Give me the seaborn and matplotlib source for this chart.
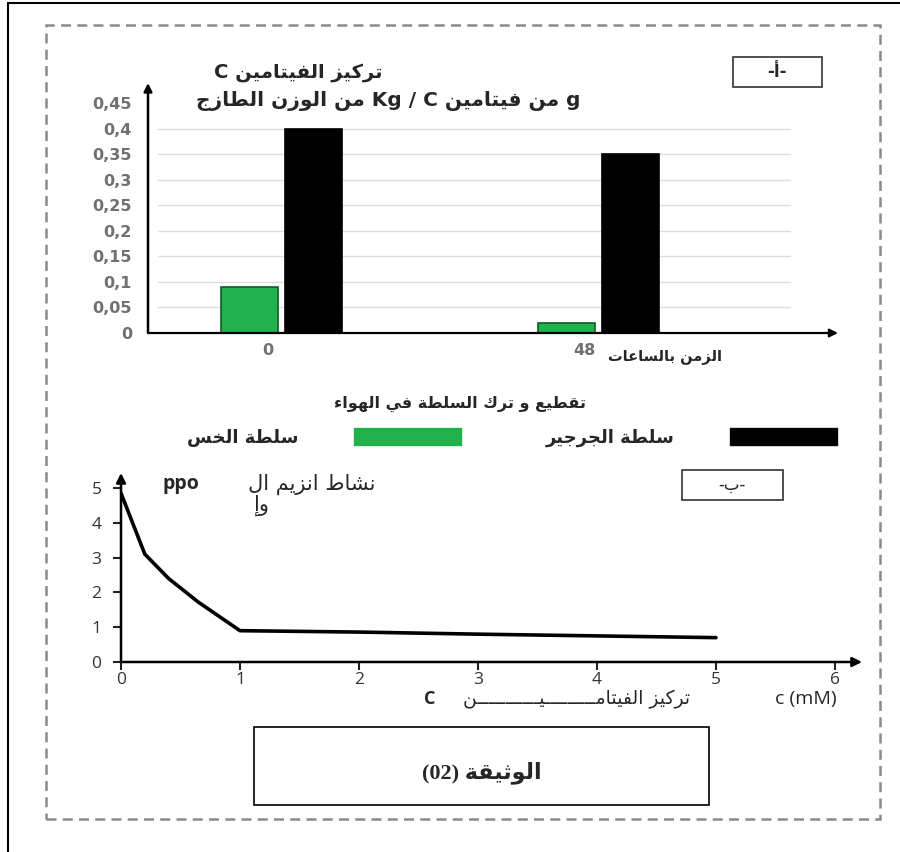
import numpy as np
import pandas as pd
import seaborn as sns
import matplotlib
matplotlib.use("Agg")
import matplotlib.pyplot as plt
from matplotlib.patches import Rectangle
from matplotlib.lines import Line2D
import matplotlib.transforms as mtransforms

# ---------------- data ----------------
hours = ['0', '48']
salads = ['سلطة الخس', 'سلطة الجرجير']
lettuce_vc = [0.09, 0.02]
watercress_vc = [0.40, 0.35]
vc_ticks = [0, 0.05, 0.10, 0.15, 0.20, 0.25, 0.30, 0.35, 0.40, 0.45]

conc_mM = [0, 0.2, 0.4, 0.65, 1, 2, 3, 4, 5]
ppo_activity = [4.85, 3.1, 2.4, 1.72, 0.9, 0.86, 0.8, 0.75, 0.7]
conc_ticks = [0, 1, 2, 3, 4, 5, 6]
act_ticks = [0, 1, 2, 3, 4, 5]

# ---------------- minimal Arabic shaping + bidi ----------------
DUAL = {'\u0626': 0xFE89, '\u0628': 0xFE8F, '\u062A': 0xFE95, '\u062B': 0xFE99,
        '\u062C': 0xFE9D, '\u062D': 0xFEA1, '\u062E': 0xFEA5, '\u0633': 0xFEB1,
        '\u0634': 0xFEB5, '\u0635': 0xFEB9, '\u0636': 0xFEBD, '\u0637': 0xFEC1,
        '\u0638': 0xFEC5, '\u0639': 0xFEC9, '\u063A': 0xFECD, '\u0641': 0xFED1,
        '\u0642': 0xFED5, '\u0643': 0xFED9, '\u0644': 0xFEDD, '\u0645': 0xFEE1,
        '\u0646': 0xFEE5, '\u0647': 0xFEE9, '\u064A': 0xFEF1}
RIGHT = {'\u0622': 0xFE81, '\u0623': 0xFE83, '\u0624': 0xFE85, '\u0625': 0xFE87,
         '\u0627': 0xFE8D, '\u0629': 0xFE93, '\u062F': 0xFEA9, '\u0630': 0xFEAB,
         '\u0631': 0xFEAD, '\u0632': 0xFEAF, '\u0648': 0xFEED, '\u0649': 0xFEEF}
LAMALEF = {'\u0622': (0xFEF5, 0xFEF6), '\u0623': (0xFEF7, 0xFEF8),
           '\u0625': (0xFEF9, 0xFEFA), '\u0627': (0xFEFB, 0xFEFC)}
TATWEEL = '\u0640'


def _jn(c):  # can connect to next
    return c is not None and (c in DUAL or c == TATWEEL)


def _jp(c):  # can connect to previous
    return c is not None and (c in DUAL or c in RIGHT or c == TATWEEL)


def shape(text):
    out = []
    n = len(text)
    i = 0
    while i < n:
        c = text[i]
        prev = text[i - 1] if i > 0 else None
        nxt = text[i + 1] if i + 1 < n else None
        if c == '\u0644' and nxt in LAMALEF:
            iso, fin = LAMALEF[nxt]
            out.append(chr(fin if _jn(prev) else iso))
            i += 2
            continue
        if c == TATWEEL:
            out.append(c)
        elif c in DUAL or c in RIGHT:
            p = _jn(prev)
            q = c in DUAL and _jp(nxt)
            base = DUAL.get(c, RIGHT.get(c))
            if p and q:
                out.append(chr(base + 3))
            elif q:
                out.append(chr(base + 2))
            elif p:
                out.append(chr(base + 1))
            else:
                out.append(chr(base))
        elif c == '\u0621':
            out.append('\uFE80')
        else:
            out.append(c)
        i += 1
    return ''.join(out)


def _is_ar(c):
    return '\u0600' <= c <= '\u06FF' or '\uFB50' <= c <= '\uFEFF'


def ar(text):
    if not any(_is_ar(c) for c in text):
        return text
    s = shape(text)
    n = len(s)
    types = ['L' if (c.isascii() and c.isalnum()) else ('R' if _is_ar(c) else 'N') for c in s]
    res = types[:]
    for i in range(n):
        if types[i] == 'N':
            j = i - 1
            while j >= 0 and types[j] == 'N':
                j -= 1
            k = i + 1
            while k < n and types[k] == 'N':
                k += 1
            res[i] = 'L' if (j >= 0 and k < n and types[j] == 'L' and types[k] == 'L') else 'R'
    runs = []
    for c, t in zip(s, res):
        if runs and runs[-1][0] == t:
            runs[-1][1].append(c)
        else:
            runs.append([t, [c]])
    mirror = {'(': ')', ')': '(', '[': ']', ']': '['}
    out = ''
    for t, cs in reversed(runs):
        if t == 'L':
            out += ''.join(cs)
        else:
            out += ''.join(mirror.get(c, c) for c in reversed(cs))
    return out


# ---------------- figure ----------------
sns.set_theme(style='white')
plt.rcParams['font.family'] = ['DejaVu Sans']
W, H = 900, 852
fig = plt.figure(figsize=(W / 100, H / 100), dpi=100)
fig.patch.set_facecolor('white')


def fx(x):
    return x / W


def fy(y):
    return 1 - y / H


def ftext(x, y, s, **kw):
    kw.setdefault('ha', 'center')
    kw.setdefault('va', 'center')
    return fig.text(fx(x), fy(y), ar(s), **kw)


def fbox(x0, y0, x1, y1, **kw):
    r = Rectangle((fx(x0), fy(y1)), (x1 - x0) / W, (y1 - y0) / H,
                  transform=fig.transFigure, fill=False, **kw)
    fig.add_artist(r)


# outer frame
fig.add_artist(Line2D([fx(8), fx(900)], [fy(3), fy(3)], color='black', lw=1.5,
                      transform=fig.transFigure))
fig.add_artist(Line2D([fx(8), fx(8)], [fy(3), fy(852)], color='black', lw=1.5,
                      transform=fig.transFigure))
fbox(46, 25, 880, 819, edgecolor='#8a8a8a', lw=1.8, linestyle=(0, (4, 2.5)))

# ---------------- bar chart (A) ----------------
GREEN = '#22b14c'
ax1 = fig.add_axes([fx(148), fy(333), (838 - 148) / W, (333 - 83) / H])
df = pd.DataFrame({
    'hour': hours * 2,
    'salad': [salads[0]] * 2 + [salads[1]] * 2,
    'vc': lettuce_vc + watercress_vc,
})
sns.barplot(data=df, x='hour', y='vc', hue='salad', order=hours, hue_order=salads,
            palette=[GREEN, 'black'], saturation=1, width=0.4, gap=0.1,
            linewidth=1.2, ax=ax1, zorder=3)
for cont, ec in zip(ax1.containers, ['#0b5e22', 'black']):
    for p in cont:
        p.set_edgecolor(ec)
handles, labels = ax1.get_legend_handles_labels()
if ax1.get_legend() is not None:
    ax1.get_legend().remove()
ax1.set_xlim(-0.421, 1.755)
ax1.set_ylim(0, 0.49)
ax1.set_xlabel('')
ax1.set_ylabel('')
for s in ax1.spines.values():
    s.set_visible(False)
ax1.set_yticks(vc_ticks)
ax1.set_yticklabels(['0' if v == 0 else ('%g' % v).replace('.', ',') for v in vc_ticks])
ax1.tick_params(axis='both', length=0, colors='#707070', labelsize=11.5)
ax1.tick_params(axis='y', pad=11.5)
ax1.tick_params(axis='x', pad=7)
for lab in ax1.get_yticklabels() + ax1.get_xticklabels():
    lab.set_fontweight('bold')
off = mtransforms.ScaledTranslation(-14 / 100, 0, fig.dpi_scale_trans)
for lab in ax1.get_xticklabels():
    lab.set_transform(lab.get_transform() + off)
for v in vc_ticks[1:-1]:
    ax1.axhline(v, xmin=0.0145, xmax=0.93, color='#dcdcdc', lw=1, zorder=0)
ax1.annotate('', xy=(0, 1), xytext=(0, 0), xycoords='axes fraction',
             arrowprops=dict(arrowstyle='-|>', color='black', lw=1.8, mutation_scale=12,
                             shrinkA=0, shrinkB=0))
ax1.annotate('', xy=(1, 0), xytext=(0, 0), xycoords='axes fraction',
             arrowprops=dict(arrowstyle='-|>', color='black', lw=1.6, mutation_scale=12,
                             shrinkA=0, shrinkB=0))

ftext(298, 72, 'تركيز الفيتامين C', fontsize=14, fontweight='bold')
ftext(388, 101, 'g من فيتامين Kg / C من الوزن الطازج', fontsize=14.5, fontweight='bold')
fbox(733, 57, 822, 87, edgecolor='#333333', lw=1.2)
ftext(777, 72, '-أ-', fontsize=12, fontweight='bold')
ftext(722, 356, 'الزمن بالساعات', fontsize=10.5, fontweight='bold', ha='right')

# legend
ftext(460, 404, 'تقطيع و ترك السلطة في الهواء', fontsize=11.5, fontweight='bold')
leg = fig.legend(handles, [ar(l) for l in labels], loc='center',
                 bbox_to_anchor=(fx(513), fy(437)), ncol=2, markerfirst=False,
                 frameon=False, prop={'family': ['DejaVu Sans'], 'weight': 'bold', 'size': 13},
                 handlelength=6.1, handleheight=1.33, handletextpad=3.0, columnspacing=4.6)

# ---------------- line chart (B) ----------------
ax2 = fig.add_axes([fx(121), fy(662), (862 - 121) / W, (662 - 473) / H])
sns.lineplot(x=conc_mM, y=ppo_activity, color='black', lw=2.6, ax=ax2)
ax2.set_xlim(0, (862 - 121) / 119)
ax2.set_ylim(0, (662 - 473) / 34.8)
for s in ax2.spines.values():
    s.set_visible(False)
ax2.set_xticks(conc_ticks)
ax2.set_yticks(act_ticks)
ax2.tick_params(axis='both', direction='out', length=6, width=1.5, colors='#222222',
                labelsize=12.5, left=True, bottom=True)
ax2.tick_params(axis='y', pad=8)
ax2.tick_params(axis='x', pad=1.5)
for lab in ax2.get_yticklabels() + ax2.get_xticklabels():
    lab.set_family(['Open Sans', 'DejaVu Sans'])
    lab.set_color('#333333')
ax2.annotate('', xy=(0, 1), xytext=(0, 0), xycoords='axes fraction',
             arrowprops=dict(arrowstyle='-|>', color='black', lw=1.8, mutation_scale=14,
                             shrinkA=0, shrinkB=0))
ax2.annotate('', xy=(1, 0), xytext=(0, 0), xycoords='axes fraction',
             arrowprops=dict(arrowstyle='-|>', color='black', lw=1.8, mutation_scale=14,
                             shrinkA=0, shrinkB=0))

ftext(163, 484, 'ppo', fontsize=14, fontweight='bold', ha='left', family=['Open Sans', 'DejaVu Sans'])
ftext(376, 484, 'نشاط انزيم ال', fontsize=15, ha='right')
ftext(262, 505, 'وإ', fontsize=15)
fbox(682, 470, 783, 500, edgecolor='#333333', lw=1.2)
ftext(732, 485, '-ب-', fontsize=12)
ftext(690, 699, 'تركيز الفيتامـــــــــيـــــــــــن', fontsize=13.5, ha='right')
ftext(430, 699, 'C', fontsize=13, fontweight='bold', family=['Open Sans', 'DejaVu Sans'])
ftext(806, 699, 'c (mM)', fontsize=14, family=['Open Sans', 'DejaVu Sans'])

# document label
fbox(254, 727, 709, 805, edgecolor='black', lw=1.2)
ftext(482, 773, 'الوثيقة (02)', fontsize=16, fontweight='bold',
      family=['Liberation Serif', 'DejaVu Sans'])

fig.savefig('out.png', dpi=100, facecolor='white')
